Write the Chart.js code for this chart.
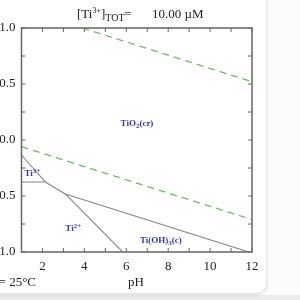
<!DOCTYPE html>
<html>
<head>
<meta charset="utf-8">
<script src="https://cdn.jsdelivr.net/npm/chart.js@4/dist/chart.umd.min.js"></script>
<style>
html,body{margin:0;padding:0;width:300px;height:300px;overflow:hidden;background:#fbfbfb;}
#strip{position:absolute;left:0;top:295px;width:300px;height:5px;background:#ececec;}
#card{position:absolute;left:-20px;top:-20px;width:286px;height:313px;background:#fff;border-radius:10px;box-shadow:0 1px 4px rgba(0,0,0,0.18);}
#wrap{position:absolute;left:-40px;top:0;width:340px;height:300px;}
</style>
</head>
<body>
<div id="strip"></div>
<div id="card"></div>
<div id="wrap"><canvas id="c" width="340" height="300"></canvas></div>
<script>
// Data (pH, E in V)
const xRange = [1, 12];
const yRange = [-1.0, 1.0];
const xTickLabels = [2, 4, 6, 8, 10, 12];
const yTickLabels = [1.0, 0.5, 0.0, -0.5, -1.0];
const waterUpper = [[3.9, 1.0], [12, 0.52]];
const waterLower = [[1, -0.06], [12, -0.71]];
const bTiO2Ti3 = [[1, -0.134], [2.14, -0.375], [3.09, -0.482]];
const bTi3Ti2 = [[1, -0.375], [2.14, -0.375]];
const bTi2TiOH3 = [[3.09, -0.482], [5.83, -1.0]];
const bTiO2TiOH3 = [[3.09, -0.482], [11.85, -1.0]];
const regionLabels = [
  {text: 'TiO', sub: '2', after: '(cr)', x: 6.51, y: 0.152},
  {text: 'Ti', sup: '3+', after: '', x: 1.52, y: -0.295},
  {text: 'Ti', sup: '2+', after: '', x: 3.47, y: -0.786},
  {text: 'Ti(OH)', sub: '3', after: '(c)', x: 7.65, y: -0.893}
];

const toXY = a => a.map(p => ({x: p[0], y: p[1]}));
const grey = '#858585';
const green = '#72b866';
const mk = (d, col, dash, w) => ({data: toXY(d), borderColor: col, borderDash: dash, borderWidth: w, pointRadius: 0, fill: false, tension: 0});

const serif = '"Liberation Serif", "DejaVu Serif", serif';

function drawRich(ctx, parts, x, y, align) {
  let total = 0;
  parts.forEach(p => { ctx.font = (p.bold ? 'bold ' : '') + p.size + 'px ' + serif; total += ctx.measureText(p.t).width; });
  let cx = align === 'center' ? x - total / 2 : x;
  ctx.textAlign = 'left';
  ctx.textBaseline = 'alphabetic';
  parts.forEach(p => {
    ctx.font = (p.bold ? 'bold ' : '') + p.size + 'px ' + serif;
    ctx.fillText(p.t, cx, y + (p.dy || 0));
    cx += ctx.measureText(p.t).width;
  });
}

const framePlugin = {
  id: 'frame',
  afterDatasetsDraw(chart) {
    const {ctx, chartArea: a, scales: {x, y}} = chart;
    ctx.save();
    ctx.strokeStyle = '#666';
    ctx.lineWidth = 1.5;
    ctx.strokeRect(a.left, a.top, a.right - a.left, a.bottom - a.top);
    ctx.lineWidth = 1;
    const tl = 4;
    for (let v = xRange[0]; v <= xRange[1]; v++) {
      const px = x.getPixelForValue(v);
      ctx.beginPath();
      ctx.moveTo(px, a.bottom); ctx.lineTo(px, a.bottom - tl);
      ctx.moveTo(px, a.top); ctx.lineTo(px, a.top + tl);
      ctx.stroke();
    }
    for (let v = yRange[0]; v <= yRange[1] + 1e-9; v += 0.25) {
      const py = y.getPixelForValue(v);
      ctx.beginPath();
      ctx.moveTo(a.left, py); ctx.lineTo(a.left + tl, py);
      ctx.moveTo(a.right, py); ctx.lineTo(a.right - tl, py);
      ctx.stroke();
    }
    // region labels
    ctx.fillStyle = '#3434c4';
    regionLabels.forEach(r => {
      const parts = [{t: r.text, size: 9, bold: true}];
      if (r.sub) parts.push({t: r.sub, size: 7, dy: 2, bold: true});
      if (r.sup) parts.push({t: r.sup, size: 7, dy: -3, bold: true});
      if (r.after) parts.push({t: r.after, size: 9, bold: true});
      drawRich(ctx, parts, x.getPixelForValue(r.x), y.getPixelForValue(r.y) + 3, 'center');
    });
    // title
    ctx.fillStyle = '#222';
    drawRich(ctx, [
      {t: '[Ti', size: 13},
      {t: '3+', size: 8, dy: -5},
      {t: ']', size: 13},
      {t: 'TOT', size: 10, dy: 3},
      {t: '=', size: 12}
    ], 117, 18, 'left');
    drawRich(ctx, [{t: '10.00 \u00b5M', size: 13}], 192, 18, 'left');
    // footer
    ctx.font = '13px ' + serif;
    ctx.textAlign = 'right';
    ctx.textBaseline = 'middle';
    ctx.fillText('t = 25\u00b0C', 76, 283);
    ctx.textAlign = 'center';
    ctx.fillText('pH', 176, 283);
    ctx.restore();
  }
};

new Chart(document.getElementById('c'), {
  type: 'line',
  data: {
    datasets: [
      mk(waterUpper, green, [7, 5], 1.3),
      mk(waterLower, green, [7, 5], 1.3),
      mk(bTiO2Ti3, grey, [], 1.1),
      mk(bTi3Ti2, grey, [], 1.1),
      mk(bTi2TiOH3, grey, [], 1.1),
      mk(bTiO2TiOH3, grey, [], 1.1)
    ]
  },
  options: {
    responsive: false,
    animation: false,
    events: [],
    layout: {padding: {top: 28, right: 48, left: 0, bottom: 0}},
    plugins: {legend: {display: false}, tooltip: {enabled: false}},
    scales: {
      x: {
        type: 'linear', min: xRange[0], max: xRange[1],
        grid: {display: false, drawTicks: false},
        border: {display: false},
        afterFit: s => { s.height = 48; },
        afterBuildTicks: s => { s.ticks = xTickLabels.map(v => ({value: v})); },
        ticks: {padding: 7, color: '#222', font: {family: serif, size: 13}, callback: v => String(v)}
      },
      y: {
        type: 'linear', min: yRange[0], max: yRange[1],
        grid: {display: false, drawTicks: false},
        border: {display: false},
        afterFit: s => { s.width = 61.5; },
        afterBuildTicks: s => { s.ticks = yTickLabels.map(v => ({value: v})); },
        ticks: {padding: 6, color: '#222', font: {family: serif, size: 13}, callback: v => Number(v).toFixed(1)}
      }
    }
  },
  plugins: [framePlugin]
});
</script>
</body>
</html>
